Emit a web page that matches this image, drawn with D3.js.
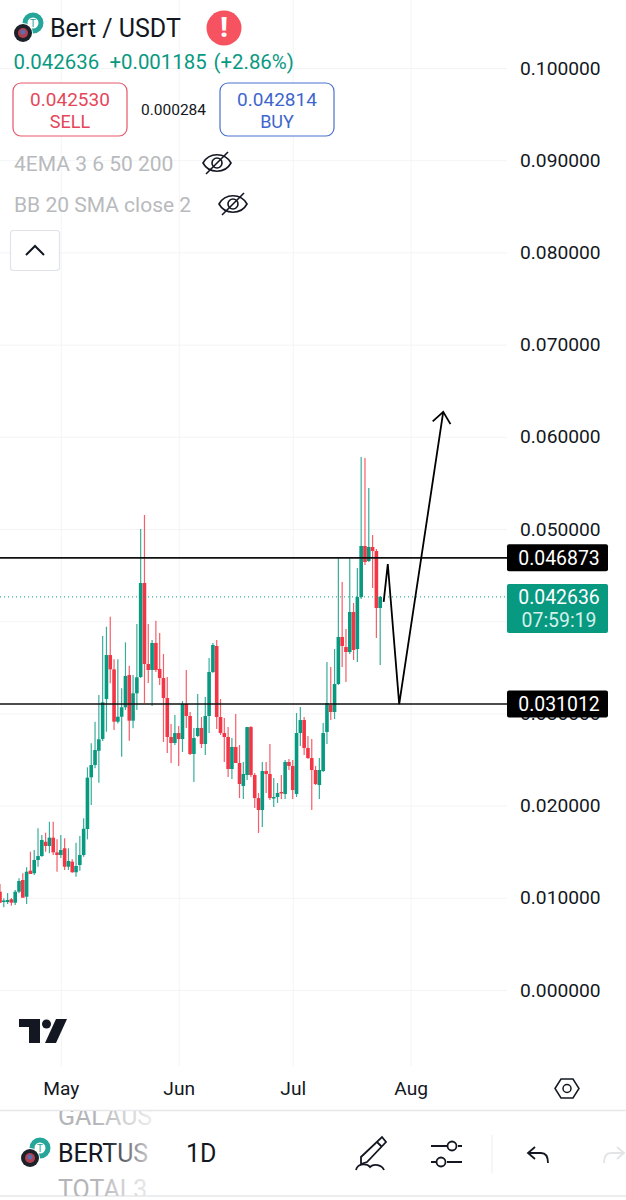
<!DOCTYPE html>
<html>
<head>
<meta charset="utf-8">
<script src="https://cdn.jsdelivr.net/npm/d3@7"></script>
<style>
  html, body { margin: 0; padding: 0; background: #fff; }
  svg { display: block; font-family: Roboto, sans-serif; }
  .axis .domain { display: none; }
  .axis line { stroke: #f3f4f6; }
  .axis text { fill: #131722; font-size: 19.2px; font-family: Roboto, sans-serif; }
</style>
</head>
<body>
<svg id="chart" width="626" height="1200"></svg>
<script>
// daily candles, Apr 15 -> Jul 24
const opens = [0.01066,0.00954,0.00954,0.00984,0.00947,0.01066,0.01193,0.01012,0.01294,0.01266,0.0141,0.01453,0.01608,0.01562,0.01652,0.01493,0.01464,0.01537,0.01337,0.01392,0.01277,0.01356,0.01464,0.01746,0.02307,0.0244,0.02595,0.02722,0.03156,0.03633,0.03478,0.0291,0.02964,0.03066,0.03416,0.02921,0.03218,0.03395,0.04414,0.03536,0.03471,0.03764,0.03482,0.03384,0.03167,0.02744,0.02679,0.02787,0.02722,0.03102,0.02972,0.0256,0.02755,0.02842,0.02668,0.02972,0.03449,0.03731,0.02961,0.02787,0.02744,0.02397,0.02636,0.02462,0.02213,0.02332,0.02852,0.02332,0.02082,0.01952,0.02375,0.02343,0.02082,0.02093,0.02148,0.02126,0.02473,0.0243,0.02126,0.02787,0.02928,0.02625,0.02516,0.02386,0.02223,0.02375,0.02798,0.03091,0.03015,0.03319,0.03829,0.0372,0.03666,0.041,0.03698,0.04262,0.04816,0.04653,0.04805,0.04761,0.04143];
const highs = [0.0115,0.00995,0.01052,0.00998,0.01085,0.01211,0.01266,0.01331,0.015,0.01518,0.01754,0.01681,0.01706,0.01825,0.01825,0.01634,0.01681,0.01645,0.01537,0.01418,0.01598,0.0167,0.01862,0.02415,0.02676,0.0291,0.032,0.03839,0.0394,0.04049,0.03587,0.03587,0.03272,0.03771,0.03517,0.03416,0.0397,0.05,0.05152,0.0397,0.03796,0.04005,0.03872,0.03644,0.03395,0.02885,0.02983,0.02863,0.03134,0.03471,0.03015,0.02842,0.0321,0.02961,0.03178,0.03601,0.03764,0.03796,0.03156,0.0295,0.02852,0.02733,0.02993,0.02657,0.02473,0.02852,0.02863,0.02354,0.02137,0.02473,0.02473,0.02668,0.02299,0.02245,0.02332,0.02495,0.02505,0.02495,0.03004,0.03069,0.02961,0.02755,0.02722,0.0243,0.02516,0.02896,0.03557,0.03503,0.03698,0.04696,0.04425,0.03915,0.04696,0.04197,0.04577,0.05781,0.0577,0.05445,0.04935,0.04783,0.04273];
const lows = [0.00944,0.00897,0.00933,0.00915,0.00922,0.01049,0.01001,0.00933,0.01258,0.01247,0.01337,0.01446,0.015,0.01483,0.01464,0.01283,0.01432,0.01302,0.01302,0.01272,0.01229,0.01294,0.01446,0.01634,0.02007,0.02405,0.02248,0.02701,0.02801,0.03326,0.0282,0.0289,0.0253,0.03037,0.02704,0.02838,0.03037,0.03384,0.03113,0.0333,0.0308,0.03449,0.03308,0.0269,0.0257,0.02462,0.02657,0.0243,0.02581,0.02842,0.02549,0.02256,0.02744,0.02625,0.02549,0.02787,0.03438,0.02831,0.02766,0.02473,0.0231,0.02288,0.02462,0.02082,0.02072,0.02278,0.0231,0.01974,0.01703,0.01768,0.02137,0.02061,0.01985,0.02028,0.02072,0.02072,0.02386,0.02072,0.02093,0.02646,0.02549,0.02505,0.01952,0.02223,0.02072,0.02364,0.02668,0.02928,0.02939,0.03308,0.03503,0.03341,0.03644,0.03579,0.03557,0.0424,0.0461,0.04642,0.0436,0.03818,0.03525];
const closes = [0.00947,0.00971,0.00976,0.00947,0.01066,0.01182,0.01001,0.01283,0.01258,0.0141,0.01453,0.01627,0.01562,0.01652,0.01493,0.01464,0.01518,0.01337,0.01399,0.01277,0.01345,0.01464,0.01749,0.02303,0.0244,0.02603,0.02719,0.0312,0.03633,0.03478,0.0291,0.02964,0.03066,0.03406,0.02921,0.03218,0.03392,0.04414,0.03536,0.03471,0.03764,0.03471,0.03384,0.03167,0.02744,0.02679,0.02787,0.02722,0.03102,0.02972,0.0256,0.02733,0.02842,0.02668,0.02972,0.03449,0.03742,0.02961,0.02787,0.02744,0.02397,0.02636,0.02462,0.02234,0.02343,0.02852,0.02332,0.02082,0.01952,0.02375,0.02343,0.02082,0.02093,0.02137,0.02137,0.02473,0.0243,0.02169,0.02787,0.02928,0.02625,0.02516,0.02386,0.02234,0.02386,0.02787,0.03113,0.03015,0.03319,0.03829,0.03731,0.03666,0.041,0.03688,0.04262,0.04816,0.04642,0.04805,0.04761,0.04143,0.04264];

const yTicks = [0, 0.01, 0.02, 0.03, 0.04, 0.05, 0.06, 0.07, 0.08, 0.09, 0.1];
const monthTicks = [new Date(Date.UTC(2025, 4, 1)), new Date(Date.UTC(2025, 5, 1)), new Date(Date.UTC(2025, 6, 1)), new Date(Date.UTC(2025, 7, 1))];

// levels drawn on the chart
const levelPrices = [0.046873, 0.031012];
const lastPrice = 0.042636;

// hand drawn forecast line
const forecastDates = ['2025-07-24T22:00Z', '2025-07-26T00:00Z', '2025-07-29T00:00Z', '2025-08-09T14:00Z'].map(d => new Date(d));
const forecastPrices = [0.0421, 0.0462, 0.03101, 0.0627];

const axisX = 507;
const axisY = 1066;

const firstDay = new Date(Date.UTC(2025, 3, 15));
const x = d3.scaleUtc()
  .domain([firstDay, monthTicks[3]])
  .range([0, 410.6]);
const y = d3.scaleLinear()
  .domain([0, 0.1])
  .range([990, 68]);

const svg = d3.select('#chart');
const defs = svg.append('defs');

// 右に向かって消えるテキスト用
const fade = defs.append('linearGradient').attr('id', 'fade').attr('gradientUnits', 'userSpaceOnUse')
  .attr('x1', 59).attr('x2', 160).attr('y1', 0).attr('y2', 0);
fade.append('stop').attr('offset', '45%').attr('stop-color', '#131722');
fade.append('stop').attr('offset', '95%').attr('stop-color', '#e4e5e7');
const fadeLight = defs.append('linearGradient').attr('id', 'fadeLight').attr('gradientUnits', 'userSpaceOnUse')
  .attr('x1', 59).attr('x2', 160).attr('y1', 0).attr('y2', 0);
fadeLight.append('stop').attr('offset', '35%').attr('stop-color', '#b4b5b8');
fadeLight.append('stop').attr('offset', '95%').attr('stop-color', '#f0f0f1');
defs.append('clipPath').attr('id', 'pickerClip').append('rect')
  .attr('x', 0).attr('y', 1111).attr('width', 626).attr('height', 85);
defs.append('marker').attr('id', 'arrowHead')
  .attr('viewBox', '-12 -12 24 24').attr('markerWidth', 24).attr('markerHeight', 24)
  .attr('markerUnits', 'userSpaceOnUse').attr('orient', 'auto')
  .append('path').attr('d', 'M-11 -9 L0 0 L-11 9').attr('fill', 'none').attr('stroke', '#000').attr('stroke-width', 1.8);

// grid + axes
svg.append('g').attr('class', 'axis y').attr('transform', `translate(${axisX},0)`)
  .call(d3.axisRight(y).tickValues(yTicks).tickFormat(d3.format('.6f')).tickSizeInner(-axisX).tickSizeOuter(0).tickPadding(13));
svg.append('g').attr('class', 'axis x').attr('transform', `translate(0,${axisY})`)
  .call(d3.axisBottom(x).tickValues(monthTicks).tickFormat(d3.utcFormat('%b')).tickSizeInner(-axisY).tickSizeOuter(0).tickPadding(15));

// candles
const green = '#089981';
const red = '#f23645';
const candles = closes.map((c, i) => ({ date: d3.utcDay.offset(firstDay, i), open: opens[i], high: highs[i], low: lows[i], close: c }));
const candle = svg.append('g').attr('class', 'candles').selectAll('g').data(candles).join('g')
  .attr('fill', d => d.close >= d.open ? green : red)
  .attr('stroke', d => d.close >= d.open ? green : red);
candle.append('line')
  .attr('x1', d => x(d.date)).attr('x2', d => x(d.date))
  .attr('y1', d => y(d.high)).attr('y2', d => y(d.low))
  .attr('stroke-width', 1.2).attr('stroke-opacity', 0.8);
candle.append('rect')
  .attr('x', d => x(d.date) - 1.8).attr('width', 3.6)
  .attr('y', d => y(Math.max(d.open, d.close)))
  .attr('height', d => Math.max(1.5, Math.abs(y(d.open) - y(d.close))))
  .attr('stroke', 'none');

// last price + levels
svg.append('line').attr('x1', 0).attr('x2', axisX).attr('y1', y(lastPrice)).attr('y2', y(lastPrice))
  .attr('stroke', green).attr('stroke-width', 1).attr('stroke-dasharray', '1 3');
svg.selectAll('.level').data(levelPrices).join('line').attr('class', 'level')
  .attr('x1', 0).attr('x2', axisX).attr('y1', d => y(d)).attr('y2', d => y(d))
  .attr('stroke', '#111').attr('stroke-width', 1.6);

// forecast
const forecastLine = d3.line().x(d => x(d[0])).y(d => y(d[1]));
svg.append('path')
  .attr('d', forecastLine(forecastDates.map((d, i) => [d, forecastPrices[i]])))
  .attr('fill', 'none').attr('stroke', '#000').attr('stroke-width', 1.8)
  .attr('marker-end', 'url(#arrowHead)');

// price labels on the axis
function priceLabel (price) {
  const cy = y(price);
  svg.append('rect').attr('x', axisX).attr('y', cy - 13.5).attr('width', 101).attr('height', 27).attr('rx', 2).attr('fill', '#000');
  svg.append('text').attr('x', 559).attr('y', cy).attr('dy', '.36em').attr('text-anchor', 'middle')
    .attr('fill', '#fff').attr('font-size', 19.4).text(d3.format('.6f')(price));
}
levelPrices.forEach(priceLabel);
svg.append('rect').attr('x', axisX).attr('y', 584).attr('width', 101).attr('height', 49).attr('rx', 2).attr('fill', green);
svg.append('text').attr('x', 559).attr('y', 597).attr('dy', '.36em').attr('text-anchor', 'middle')
  .attr('fill', '#fff').attr('font-size', 19.4).text(d3.format('.6f')(lastPrice));
svg.append('text').attr('x', 559).attr('y', 620).attr('dy', '.36em').attr('text-anchor', 'middle')
  .attr('fill', '#d5f0ea').attr('font-size', 19.4).text('07:59:19');

// helper for plain text
function label (str, px, py, size, color, anchor) {
  return svg.append('text').attr('x', px).attr('y', py).attr('dy', '.36em')
    .attr('font-size', size).attr('fill', color).attr('text-anchor', anchor || 'start').text(str);
}

function coinIcon (tx, ty) {
  svg.append('circle').attr('cx', tx + 10).attr('cy', ty - 10).attr('r', 8).attr('fill', 'none').attr('stroke', '#26a69a').attr('stroke-width', 5);
  svg.append('text').attr('x', tx + 10).attr('y', ty - 6).attr('font-size', 10).attr('fill', '#26a69a').attr('text-anchor', 'middle').text('T');
  svg.append('circle').attr('cx', tx).attr('cy', ty).attr('r', 10).attr('fill', '#fff');
  svg.append('circle').attr('cx', tx).attr('cy', ty).attr('r', 9).attr('fill', '#1d2129');
  svg.append('circle').attr('cx', tx).attr('cy', ty).attr('r', 5).attr('fill', '#b3404f');
  svg.append('circle').attr('cx', tx).attr('cy', ty - 1).attr('r', 2.5).attr('fill', '#5b6fb0');
}

function eyeOff (cx, cy) {
  const g = svg.append('g').attr('transform', `translate(${cx},${cy})`).attr('fill', 'none').attr('stroke', '#131722').attr('stroke-width', 1.6);
  g.append('path').attr('d', 'M-14 0 C-8 -11 8 -11 14 0 C8 11 -8 11 -14 0 Z');
  g.append('circle').attr('r', 5);
  g.append('path').attr('d', 'M-11 11 L11 -11');
}

// header
coinIcon(23, 33);
label('Bert / USDT', 50, 28, 25, '#131722');
svg.append('circle').attr('cx', 224).attr('cy', 28).attr('r', 17.5).attr('fill', '#f7525f');
label('!', 224, 27, 27, '#fff', 'middle').attr('font-weight', 900);

label('0.042636', 13.5, 62, 20.4, green);
label('+0.001185', 109.5, 62, 20.4, green);
label('(+2.86%)', 213.5, 62, 20.4, green);

svg.append('rect').attr('x', 13).attr('y', 83).attr('width', 114).attr('height', 53).attr('rx', 8).attr('fill', '#fff').attr('stroke', '#e5566a').attr('stroke-width', 1.2);
label('0.042530', 70, 99, 19, '#e5475a', 'middle');
label('SELL', 70, 122, 18, '#e5475a', 'middle');
label('0.000284', 173.5, 109, 15.5, '#131722', 'middle');
svg.append('rect').attr('x', 220).attr('y', 83).attr('width', 114).attr('height', 53).attr('rx', 8).attr('fill', '#fff').attr('stroke', '#4a72cf').attr('stroke-width', 1.2);
label('0.042814', 277, 99, 19, '#3f66cc', 'middle');
label('BUY', 277, 122, 18, '#3f66cc', 'middle');

label('4EMA 3 6 50 200', 14, 163, 21, '#b8babd');
eyeOff(217, 163);
label('BB 20 SMA close 2', 14, 204, 21, '#b8babd');
eyeOff(233, 204);

svg.append('rect').attr('x', 10.5).attr('y', 230.5).attr('width', 49).attr('height', 40).attr('rx', 3).attr('fill', '#fff').attr('stroke', '#e0e3eb').attr('stroke-width', 1.2);
svg.append('path').attr('d', 'M26 255 L35 246 L44 255').attr('fill', 'none').attr('stroke', '#131722').attr('stroke-width', 2);

// logo
const logo = svg.append('g').attr('fill', '#131722');
logo.append('path').attr('d', 'M19 1019 H40 V1043 H29 V1027 H19 Z');
logo.append('circle').attr('cx', 46.5).attr('cy', 1024).attr('r', 4.5);
logo.append('path').attr('d', 'M56 1019 H67 L56 1043 H45 Z');

// settings hexagon
svg.append('path').attr('d', 'M555 1088.5 L561 1079 H573 L579 1088.5 L573 1098 H561 Z').attr('fill', 'none').attr('stroke', '#131722').attr('stroke-width', 1.5);
svg.append('circle').attr('cx', 567).attr('cy', 1088.5).attr('r', 4).attr('fill', 'none').attr('stroke', '#131722').attr('stroke-width', 1.5);

// bottom toolbar
svg.append('line').attr('x1', 0).attr('x2', 626).attr('y1', 1110.5).attr('y2', 1110.5).attr('stroke', '#e6e7ea').attr('stroke-width', 1.5);
svg.append('line').attr('x1', 0).attr('x2', 626).attr('y1', 1196).attr('y2', 1196).attr('stroke', '#e6e7ea').attr('stroke-width', 1.5);
const picker = svg.append('g').attr('clip-path', 'url(#pickerClip)');
picker.append('text').attr('x', 58).attr('y', 1125).attr('font-size', 25).attr('fill', 'url(#fadeLight)').text('GALAUS');
picker.append('text').attr('x', 58).attr('y', 1198).attr('font-size', 25).attr('fill', 'url(#fadeLight)').text('TOTAL3');
svg.append('text').attr('x', 58).attr('y', 1162).attr('font-size', 25).attr('fill', 'url(#fade)').text('BERTUS');
coinIcon(30, 1158);
label('1D', 186, 1153, 25, '#131722');

const tools = svg.append('g').attr('fill', 'none').attr('stroke', '#131722').attr('stroke-width', 1.8);
tools.append('path').attr('d', 'M382 1137 L386 1142 L367 1162 L361 1164 L361 1157 Z M377 1142 L382 1147');
tools.append('path').attr('d', 'M356 1170 C358 1162 368 1164 370 1167 C374 1163 382 1165 384 1170');
tools.append('path').attr('d', 'M431 1146 H447 M458 1146 H462 M431 1162 H436 M447 1162 H462');
tools.append('circle').attr('cx', 452).attr('cy', 1146).attr('r', 4.5);
tools.append('circle').attr('cx', 441).attr('cy', 1162).attr('r', 4.5);
tools.append('path').attr('d', 'M535 1147 L528 1153 L535 1159 M528 1153 H541 Q548 1153 548 1163');
svg.append('line').attr('x1', 492).attr('x2', 492).attr('y1', 1135).attr('y2', 1173).attr('stroke', '#eceded').attr('stroke-width', 1);
svg.append('path').attr('d', 'M617 1147 L624 1153 L617 1159 M624 1153 H611 Q604 1153 604 1163').attr('fill', 'none').attr('stroke', '#e3e4e6').attr('stroke-width', 1.8);
</script>
</body>
</html>
